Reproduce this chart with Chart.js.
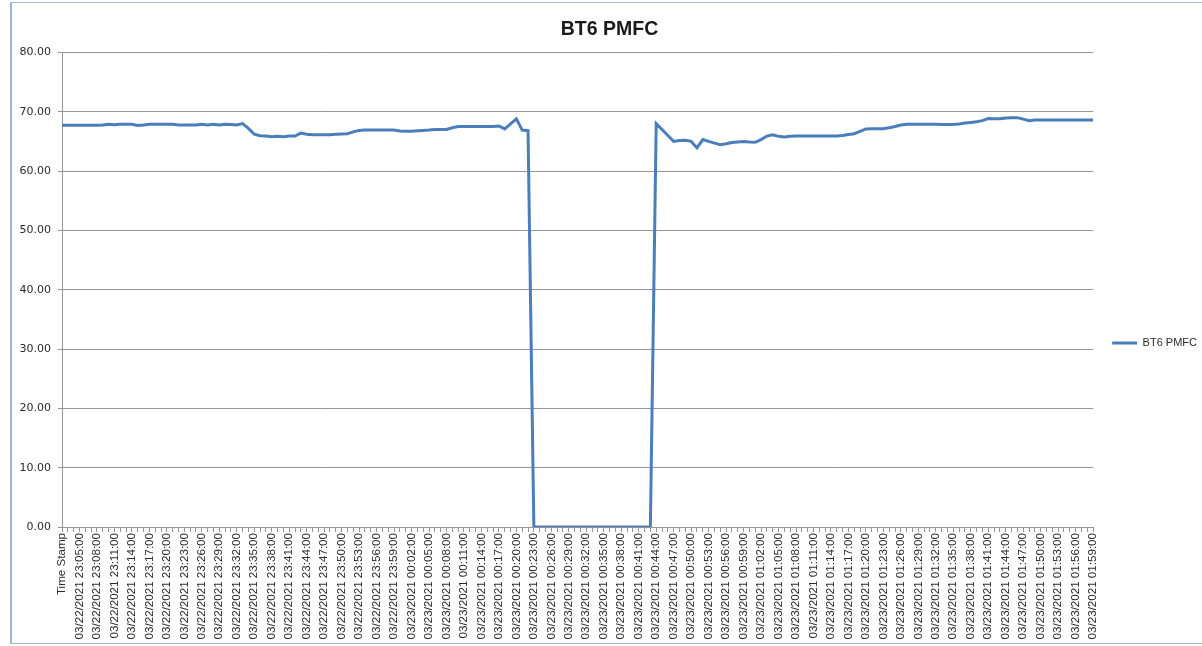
<!DOCTYPE html>
<html>
<head>
<meta charset="utf-8">
<title>BT6 PMFC</title>
<script src="https://cdn.jsdelivr.net/npm/chart.js@4.4.1/dist/chart.umd.min.js"></script>
<style>
  html, body { margin: 0; padding: 0; background: #fff; }
  #frame {
    position: absolute;
    left: 10px; top: 2px; width: 1196px; height: 640px;
    border: 1px solid #a3b6cc;
    border-left: 2px solid #a3b6cc;
  }
  #wrap { position: absolute; left: 0; top: 0; width: 1202px; height: 646px; }
</style>
</head>
<body>
<div id="frame"></div>
<div id="wrap"><canvas id="pmfcChart" width="1202" height="646"></canvas></div>
<script>
// -------------------- Data --------------------
const seriesName = 'BT6 PMFC';
const headerLabel = 'Time Stamp';
const firstStamp = { month: 3, day: 22, year: 2021, hour: 23, minute: 3 };
const sampleCount = 177;      // one reading per minute after the header row
const labelEvery = 3;         // only every third category gets a label

const yTicks = [0, 10, 20, 30, 40, 50, 60, 70, 80];

const bt6Values = [
  67.7, 67.7, 67.7, 67.7, 67.7, 67.7, 67.7, 67.75, 67.9, 67.8,
  67.9, 67.9, 67.9, 67.7, 67.75, 67.9, 67.9, 67.9, 67.9, 67.9,
  67.75, 67.75, 67.75, 67.75, 67.9, 67.75, 67.9, 67.75, 67.9, 67.85,
  67.75, 68.0, 67.2, 66.2, 65.95, 65.9, 65.8, 65.85, 65.8, 65.9,
  65.9, 66.4, 66.2, 66.1, 66.1, 66.1, 66.1, 66.2, 66.25, 66.3,
  66.6, 66.85, 66.9, 66.9, 66.9, 66.9, 66.9, 66.9, 66.75, 66.7,
  66.7, 66.8, 66.85, 66.9, 67.0, 67.0, 67.0, 67.3, 67.5, 67.5,
  67.5, 67.5, 67.5, 67.5, 67.5, 67.6, 67.1, 67.95, 68.8, 66.9,
  66.8, 0, 0, 0, 0, 0, 0, 0, 0, 0,
  0, 0, 0, 0, 0, 0, 0, 0, 0, 0,
  0, 0, 68.0, 67.0, 66.0, 65.0, 65.15, 65.2, 65.0, 63.9,
  65.3, 65.0, 64.7, 64.45, 64.6, 64.8, 64.9, 65.0, 64.9, 64.85,
  65.3, 65.9, 66.1, 65.85, 65.75, 65.85, 65.9, 65.9, 65.9, 65.9,
  65.9, 65.9, 65.9, 65.9, 66.0, 66.15, 66.3, 66.7, 67.1, 67.15,
  67.15, 67.15, 67.3, 67.5, 67.75, 67.9, 67.9, 67.9, 67.9, 67.9,
  67.9, 67.85, 67.85, 67.85, 67.95, 68.1, 68.2, 68.3, 68.5, 68.85,
  68.8, 68.8, 68.95, 69.0, 69.0, 68.75, 68.5, 68.6, 68.6, 68.6,
  68.6, 68.6, 68.6, 68.6, 68.6, 68.6, 68.6, 68.6
];

// -------------------- Labels --------------------
const pad2 = n => String(n).padStart(2, '0');

function buildTimeLabels() {
  const labels = [headerLabel];
  const start = new Date(firstStamp.year, firstStamp.month - 1, firstStamp.day, firstStamp.hour, firstStamp.minute);
  for (let i = 0; i < sampleCount; i++) {
    const t = new Date(start.getTime() + i * 60000);
    labels.push(pad2(t.getMonth() + 1) + '/' + pad2(t.getDate()) + '/' + t.getFullYear() + ' ' +
      pad2(t.getHours()) + ':' + pad2(t.getMinutes()) + ':00');
  }
  return labels;
}

const timeLabels = buildTimeLabels();

// -------------------- Chart --------------------
const axisGray = '#959595';
const textColor = '#2b2b2b';
const lineBlue = '#4a7ebb';

const ctx = document.getElementById('pmfcChart');

new Chart(ctx, {
  type: 'line',
  data: {
    labels: timeLabels,
    datasets: [{
      label: seriesName,
      data: bt6Values,
      borderColor: lineBlue,
      backgroundColor: lineBlue,
      borderWidth: 3,
      tension: 0,
      pointRadius: 0,
      fill: false
    }]
  },
  options: {
    responsive: false,
    animation: false,
    // legend measures a bit wider than its text, so the right side is pulled in
    layout: { padding: { left: 12, right: -5, top: 0, bottom: 0 } },
    plugins: {
      title: {
        display: true,
        text: seriesName,
        color: '#1a1a1a',
        font: { family: 'Liberation Sans', size: 19.5, weight: 'bold' },
        padding: { top: 18, bottom: 11 }
      },
      legend: {
        position: 'right',
        align: 'center',
        title: {
          display: true,
          text: ' ',
          font: { size: 10 },
          padding: { top: 28, bottom: 0 }
        },
        labels: {
          usePointStyle: true,
          pointStyle: 'line',
          pointStyleWidth: 25,
          padding: 19,
          color: textColor,
          font: { family: 'Liberation Sans', size: 11 }
        }
      },
      tooltip: { enabled: false }
    },
    scales: {
      x: {
        type: 'category',
        offset: false,
        border: { color: axisGray, width: 1 },
        grid: { drawOnChartArea: false, color: axisGray, tickLength: 5 },
        ticks: {
          autoSkip: false,
          maxRotation: 90,
          minRotation: 90,
          padding: 1,
          color: textColor,
          font: { family: 'Liberation Sans', size: 11.6 },
          callback: (val, i) => (i % labelEvery === 0 ? timeLabels[i] : '')
        },
        afterFit: scale => { scale.height = 119; }
      },
      y: {
        min: yTicks[0],
        max: yTicks[yTicks.length - 1],
        border: { color: axisGray, width: 1 },
        grid: { color: axisGray, tickLength: 4 },
        afterBuildTicks: scale => { scale.ticks = yTicks.map(v => ({ value: v })); },
        ticks: {
          padding: 7,
          color: textColor,
          font: { family: 'DejaVu Sans', size: 11 },
          callback: v => Number(v).toFixed(2)
        },
        afterFit: scale => { scale.width = 50; }
      }
    }
  }
});
</script>
</body>
</html>
